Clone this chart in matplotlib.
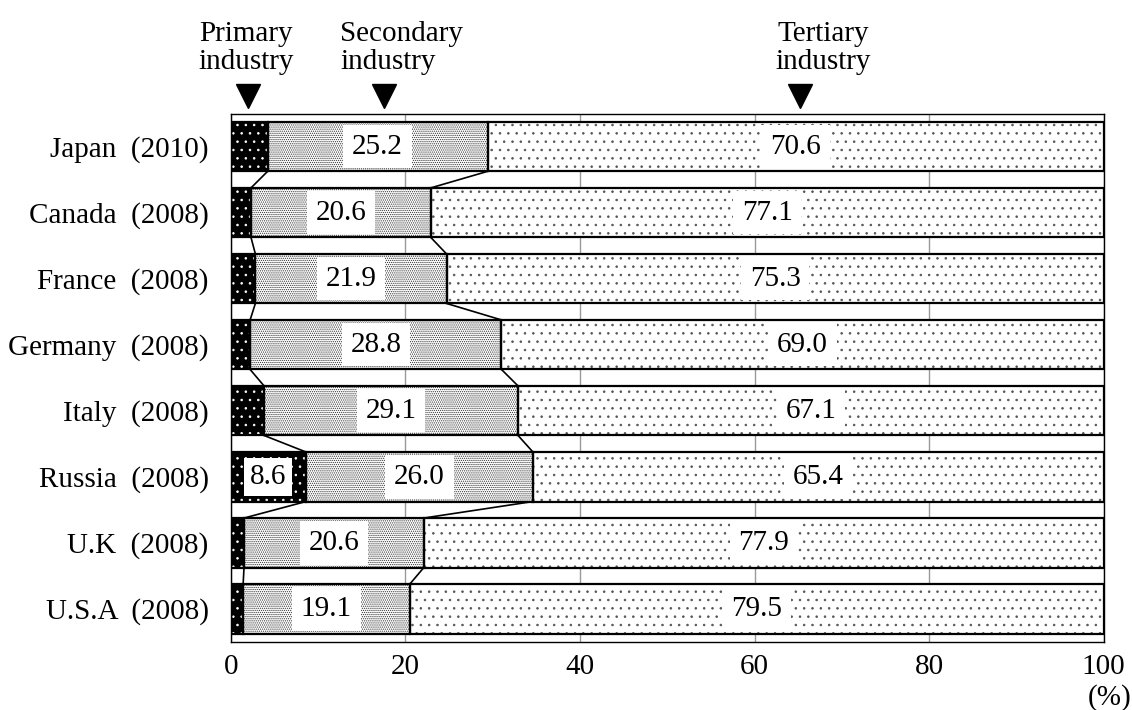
import numpy as np
import matplotlib
matplotlib.use("Agg")
import matplotlib.pyplot as plt

COUNTRIES = ["Japan  (2010)", "Canada  (2008)", "France  (2008)", "Germany  (2008)",
             "Italy  (2008)", "Russia  (2008)", "U.K  (2008)", "U.S.A  (2008)"]
PRIMARY   = [4.2, 2.3, 2.8, 2.2, 3.8, 8.6, 1.5, 1.4]
SECONDARY = [25.2, 20.6, 21.9, 28.8, 29.1, 26.0, 20.6, 19.1]
TERTIARY  = [70.6, 77.1, 75.3, 69.0, 67.1, 65.4, 77.9, 79.5]
XTICKS    = [0, 20, 40, 60, 80, 100]

plt.rcParams.update({
    "font.family": ["Liberation Serif", "DejaVu Serif"],
    "hatch.linewidth": 0.6,
})

FS = 21
BAR_H = 0.75

fig = plt.figure(figsize=(11.32, 7.10), dpi=100)
ax = fig.add_axes([0.204, 0.096, 0.771, 0.744])

y = np.arange(len(COUNTRIES))
prim = np.array(PRIMARY)
sec = np.array(SECONDARY)
ter = np.array(TERTIARY)

segments = [
    (prim, np.zeros_like(prim), "black", "white", ".."),
    (sec, prim, "white", "#333333", "........"),
    (ter, prim + sec, "white", "#555555", ".."),
]
for vals, left, face, hcol, hatch in segments:
    ax.barh(y, vals, left=left, height=BAR_H, color=face, edgecolor=hcol,
            hatch=hatch, linewidth=0, zorder=2)
    ax.barh(y, vals, left=left, height=BAR_H, fill=False, edgecolor="black",
            linewidth=1.6, zorder=3)

# series connector lines between rows
for bound in [prim, prim + sec]:
    for i in range(len(y) - 1):
        ax.plot([bound[i], bound[i + 1]],
                [y[i] + BAR_H / 2, y[i + 1] - BAR_H / 2],
                color="black", lw=1.2, zorder=3)

box = dict(boxstyle="square,pad=0.3", facecolor="white", edgecolor="none")
for i in range(len(y)):
    ax.text(prim[i] + sec[i] / 2, y[i], f"{sec[i]:.1f}", ha="center", va="center",
            fontsize=FS, bbox=box, zorder=4)
    ax.text(prim[i] + sec[i] + ter[i] / 2, y[i], f"{ter[i]:.1f}", ha="center",
            va="center", fontsize=FS, bbox=box, zorder=4)
    if prim[i] > 5:
        ax.text(prim[i] / 2, y[i], f"{prim[i]:.1f}", ha="center", va="center",
                fontsize=FS, bbox=dict(boxstyle="square,pad=0.2", facecolor="white",
                                       edgecolor="none"),
                zorder=4)

ax.set_xlim(0, 100)
ax.set_ylim(len(y) - 0.5, -0.5)
ax.set_yticks(y)
ax.set_yticklabels(COUNTRIES, fontsize=FS)
ax.set_xticks(XTICKS)
ax.set_xticklabels([str(t) for t in XTICKS], fontsize=FS)
ax.tick_params(axis="y", length=0, pad=16)
ax.tick_params(axis="x", length=0, pad=9)
ax.xaxis.grid(True, color="#999999", lw=1.0, zorder=0)
ax.set_axisbelow(True)
for s in ax.spines.values():
    s.set_linewidth(1.0)

ax.text(1.007, -0.105, "(%)", transform=ax.transAxes, ha="center", va="center",
        fontsize=FS)

# industry markers above the chart
ax.plot([2.0, 17.5, 65.2], [-0.76] * 3, "v", color="black", markersize=17,
        clip_on=False)
ax.text(1.7, -1.5, "Primary\nindustry", ha="center", va="center", fontsize=FS,
        linespacing=1.1, clip_on=False)
ax.text(12.5, -1.5, "Secondary\nindustry", ha="left", va="center", fontsize=FS,
        linespacing=1.1, multialignment="left", clip_on=False)
ax.text(67.9, -1.5, "Tertiary\nindustry", ha="center", va="center", fontsize=FS,
        linespacing=1.1, clip_on=False)

fig.savefig("out.png", dpi=100)
